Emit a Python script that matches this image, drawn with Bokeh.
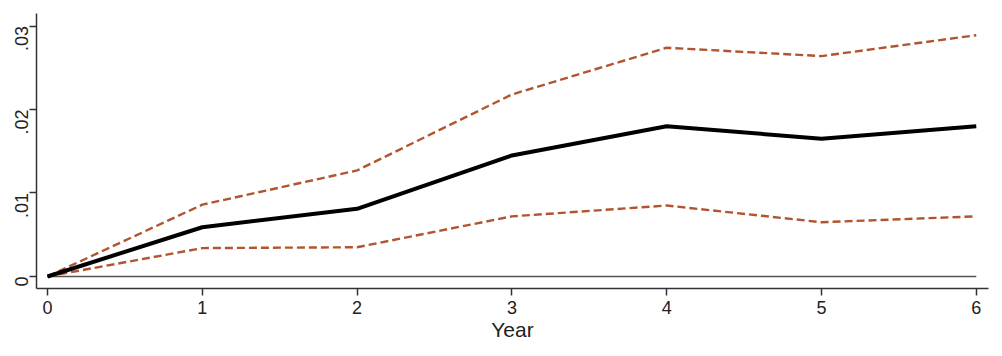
import math
from bokeh.plotting import figure
from bokeh.models import Range1d, FixedTicker
from bokeh.embed import file_html
from bokeh.resources import INLINE

years = [0, 1, 2, 3, 4, 5, 6]
estimate = [0.0, 0.0059, 0.0081, 0.0145, 0.0180, 0.0165, 0.0180]
upper_ci = [0.0, 0.0086, 0.0127, 0.0218, 0.0274, 0.0264, 0.0289]
lower_ci = [0.0, 0.0034, 0.0035, 0.0072, 0.0085, 0.0065, 0.0072]
zero_line = [0.0] * len(years)
y_ticks = [0.0, 0.01, 0.02, 0.03]
y_tick_labels = {0.0: "0", 0.01: ".01", 0.02: ".02", 0.03: ".03"}

p = figure(width=1002, height=356, output_backend="svg", toolbar_location=None,
           x_range=Range1d(-0.071, 6.079), y_range=Range1d(-0.00144, 0.0315),
           min_border_left=36, min_border_right=14, min_border_top=13, min_border_bottom=68)
p.outline_line_color = None
p.xgrid.visible = False
p.ygrid.visible = False
p.background_fill_color = "white"
p.border_fill_color = "white"

p.line(years, zero_line, line_color="#555555", line_width=1.6)
p.line(years, upper_ci, line_color="#B0552F", line_width=2.4, line_dash="8 4")
p.line(years, lower_ci, line_color="#B0552F", line_width=2.4, line_dash="8 4")
p.line(years, estimate, line_color="black", line_width=4)

for ax in (p.xaxis[0], p.yaxis[0]):
    ax.axis_line_color = "#333333"
    ax.axis_line_width = 1.5
    ax.major_tick_line_color = "#333333"
    ax.major_tick_line_width = 1.5
    ax.major_tick_out = 7
    ax.major_tick_in = 0
    ax.minor_tick_line_color = None
    ax.major_label_text_font = "Liberation Sans"
    ax.major_label_text_font_size = "18px"
    ax.major_label_text_color = "#222222"

p.xaxis.ticker = FixedTicker(ticks=years)
p.xaxis.major_label_standoff = 5
p.xaxis.axis_label = "Year"
p.xaxis.axis_label_text_font = "Liberation Sans"
p.xaxis.axis_label_text_font_style = "normal"
p.xaxis.axis_label_text_font_size = "21px"
p.xaxis.axis_label_text_color = "#222222"
p.xaxis.axis_label_standoff = 1

p.yaxis.ticker = FixedTicker(ticks=y_ticks)
p.yaxis.major_label_overrides = y_tick_labels
p.yaxis.major_label_orientation = math.pi / 2
p.yaxis.major_label_standoff = 8

open("out.html", "w").write(file_html(p, INLINE))
